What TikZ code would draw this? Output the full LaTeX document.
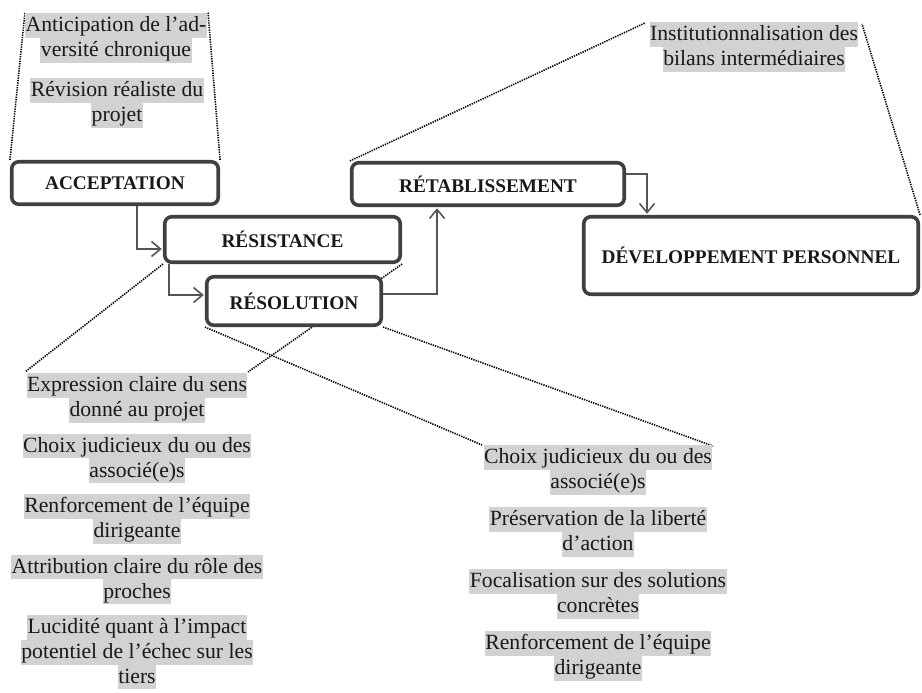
\documentclass[tikz,border=0pt]{standalone}
\usepackage{fontspec}
\setmainfont{Liberation Serif}
\usetikzlibrary{arrows.meta}
\pgfdeclarelayer{bg}
\pgfsetlayers{bg,main}
\definecolor{hlgray}{RGB}{210,210,210}
\definecolor{boxc}{RGB}{64,64,64}
\definecolor{arrc}{RGB}{85,85,85}
\definecolor{txtc}{RGB}{25,25,25}
\begin{document}
\begin{tikzpicture}[x=1pt,y=-1pt,
 stage/.style={draw=boxc, line width=3.6pt, rounded corners=7pt, fill=white, text=txtc,
   font=\fontsize{19.3}{22}\selectfont\bfseries, inner sep=0pt, align=center},
 hl/.style={fill=hlgray, text=txtc, font=\fontsize{21.7}{24.7}\selectfont,
   inner xsep=0.5pt, inner ysep=0pt, text height=18.6pt, text depth=6.1pt, anchor=north},
 flow/.style={draw=arrc, line width=1.6pt, shorten >=1.2pt,
   -{Straight Barb[length=9pt,width=15pt]}},
 callout/.style={draw=black, line width=1.6pt, dash pattern=on 1.3pt off 1.1pt}]
\useasboundingbox (0,0) rectangle (922,693);

% stage boxes
\node[stage, minimum width=206.5pt, minimum height=42.5pt] (acc) at (115,183) {ACCEPTATION};
\node[stage, minimum width=235.5pt, minimum height=45.5pt] (res) at (282.5,239.5) {RÉSISTANCE};
\node[stage, minimum width=174.5pt, minimum height=48.5pt] (rsl) at (294,301) {RÉSOLUTION};
\node[stage, minimum width=272.5pt, minimum height=42.5pt] (ret) at (488,184) {RÉTABLISSEMENT};
\node[stage, minimum width=334.5pt, minimum height=77.5pt] (dev) at (751,255.5) {DÉVELOPPEMENT PERSONNEL};

% top-left list
\node[hl] (ta1) at (116,13) {Anticipation de l’ad-};
\node[hl] (ta2) at (116,37.7) {versité chronique};
\node[hl] (tb1) at (117,78) {Révision réaliste du};
\node[hl] (tb2) at (117,102.7) {projet};

% top-right list
\node[hl] (ra1) at (754,22) {Institutionnalisation des};
\node[hl] (ra2) at (754,46.7) {bilans intermédiaires};

% left list
\node[hl] (la1) at (137,373) {Expression claire du sens};
\node[hl] (la2) at (137,397.7) {donné au projet};
\node[hl] (lb1) at (137,433.5) {Choix judicieux du ou des};
\node[hl] (lb2) at (137,458.2) {associé(e)s};
\node[hl] (lc1) at (137,494) {Renforcement de l’équipe};
\node[hl] (lc2) at (137,518.7) {dirigeante};
\node[hl] (ld1) at (137,554.5) {Attribution claire du rôle des};
\node[hl] (ld2) at (137,579.2) {proches};
\node[hl] (le1) at (137,615) {Lucidité quant à l’impact};
\node[hl] (le2) at (137,639.7) {potentiel de l’échec sur les};
\node[hl] (le3) at (137,664.4) {tiers};

% right list
\node[hl] (ma1) at (598,445) {Choix judicieux du ou des};
\node[hl] (ma2) at (598,469.7) {associé(e)s};
\node[hl] (mb1) at (598,507) {Préservation de la liberté};
\node[hl] (mb2) at (598,531.7) {d’action};
\node[hl] (mc1) at (598,569) {Focalisation sur des solutions};
\node[hl] (mc2) at (598,593.7) {concrètes};
\node[hl] (md1) at (598,631) {Renforcement de l’équipe};
\node[hl] (md2) at (598,655.7) {dirigeante};

% free ends of the callout lines
\coordinate (c1) at (25,12);
\coordinate (c2) at (208,12);
\coordinate (c3) at (25,372);
\coordinate (c4) at (248,372);
\coordinate (c5) at (482,445);
\coordinate (c6) at (713,446);
\coordinate (c7) at (645,23);
\coordinate (c8) at (862,24);

\begin{pgfonlayer}{bg}
\draw[callout] (acc.north west) -- (c1);
\draw[callout] (acc.north east) -- (c2);
\draw[callout] (res.south west) -- (c3);
\draw[callout] (res.south east) -- (c4);
\draw[callout] (rsl.south west) -- (c5);
\draw[callout] (rsl.south east) -- (c6);
\draw[callout] (ret.north west) -- (c7);
\draw[callout] (dev.north east) -- (c8);
\end{pgfonlayer}

% flow arrows
\draw[flow] ([xshift=22pt]acc.south) |- ([yshift=-9.5pt]res.west);
\draw[flow] ([xshift=6pt]res.south west) |- ([yshift=6pt]rsl.west);
\draw[flow] ([yshift=7pt]rsl.east) -| ([xshift=-51pt]ret.south);
\draw[flow] ([yshift=10pt]ret.east) -| ([xshift=-104pt]dev.north);
\end{tikzpicture}
\end{document}
